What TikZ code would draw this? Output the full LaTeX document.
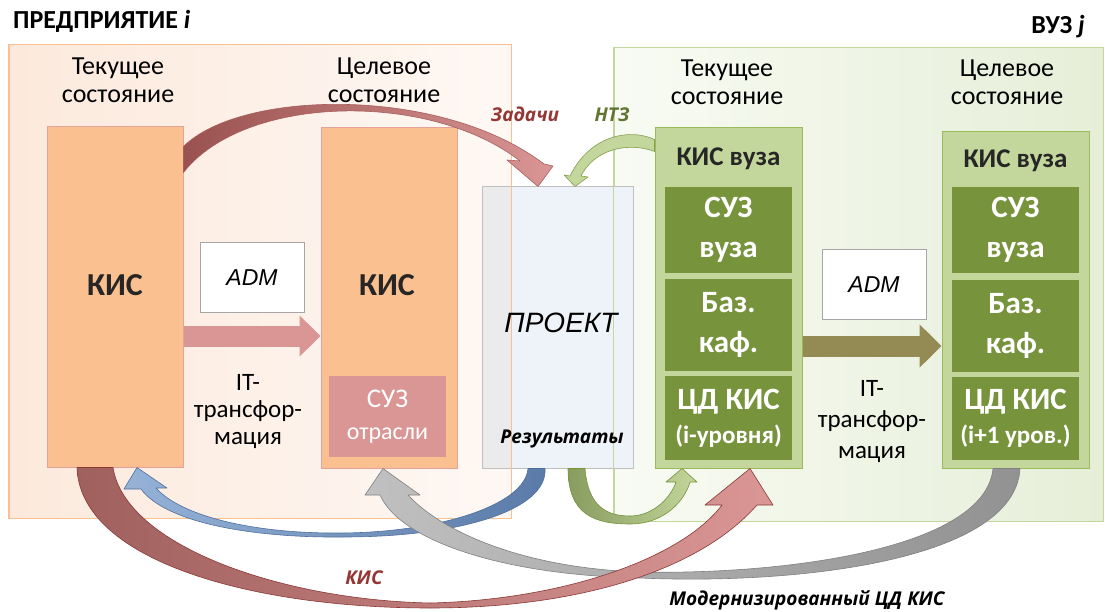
\documentclass[tikz,border=0pt]{standalone}
\usepackage{fontspec}
\setmainfont{Carlito}
\newfontfamily\arialfont{Liberation Sans}
\newfontfamily\lblfont{Open Sans}
\usetikzlibrary{arrows.meta}

\definecolor{entfillA}{HTML}{FCE9DC}
\definecolor{entfillB}{HTML}{FBDBC3}
\definecolor{entfillC}{HTML}{FEF8F4}
\definecolor{entline}{HTML}{FAC090}
\definecolor{kisfill}{HTML}{FAC090}
\definecolor{kisline}{HTML}{E3A39A}
\definecolor{suzfill}{HTML}{D99694}
\definecolor{vuzfillA}{HTML}{F8FBF3}
\definecolor{vuzfillB}{HTML}{E6EED8}
\definecolor{vuzline}{HTML}{C3D69B}
\definecolor{kvfill}{HTML}{C3D69B}
\definecolor{kvline}{HTML}{9BBB59}
\definecolor{partfill}{HTML}{77933C}
\definecolor{projfill}{HTML}{EEF3F9}
\definecolor{projgray}{HTML}{EBEBEB}
\definecolor{projline}{HTML}{BFBFBF}
\definecolor{admline}{HTML}{A6A6A6}
\definecolor{trleft}{HTML}{D99694}
\definecolor{trright}{HTML}{948A54}
\definecolor{darkred}{HTML}{943634}
\definecolor{ntzgreen}{HTML}{5F7530}
\definecolor{taskdark}{HTML}{9A5250}
\definecolor{resdark}{HTML}{5A7AA8}
\definecolor{reslight}{HTML}{95B3D7}
\definecolor{resline}{HTML}{4F6F9F}
\definecolor{simlight}{HTML}{C0C0C0}
\definecolor{simdark}{HTML}{929292}
\definecolor{simline}{HTML}{808080}
\definecolor{kisdark}{HTML}{A0605E}
\definecolor{kisedge}{HTML}{8C3836}
\definecolor{botdark}{HTML}{879C5E}

\begin{document}
\begin{tikzpicture}[x=1pt,y=-1pt,
  head/.style={font=\fontsize{26}{28}\selectfont, align=center, inner sep=0pt},
  title/.style={font=\bfseries\fontsize{26}{30}\selectfont, inner sep=0pt},
  kisbox/.style={draw=kisline, fill=kisfill, line width=1pt, minimum width=136pt, minimum height=340pt, inner sep=0pt},
  vuzbox/.style={draw=kvline, fill=kvfill, line width=1pt, minimum width=147pt, inner sep=0pt},
  part/.style={fill=partfill, text=white, font=\bfseries\fontsize{31}{40}\selectfont, align=center, minimum width=127pt, inner sep=0pt},
  admbox/.style={draw=admline, fill=white, line width=1pt, minimum width=104pt, minimum height=69pt, font=\arialfont\itshape\fontsize{23}{26}\selectfont},
  itlabel/.style={font=\fontsize{25}{27}\selectfont, align=center, inner sep=0pt},
  flow/.style={font=\lblfont\bfseries\itshape\fontsize{19}{22}\selectfont, inner sep=0pt, anchor=base},
  trarrow/.style={line width=21pt, -{Triangle[length=21pt,width=40pt]}},
  band/.style={line width=0.6pt, line join=round}
]
\useasboundingbox (0,0) rectangle (1105,612);

% areas
\node[draw=entline, line width=1pt, left color=entfillA, middle color=entfillB, right color=entfillC, minimum width=502pt, minimum height=473pt] (ent) at (260,281.5) {};
\node[draw=vuzline, line width=1pt, left color=vuzfillA, right color=vuzfillB, minimum width=489pt, minimum height=473pt] (vuz) at (858.5,284.5) {};
\node[title, anchor=base west] (entT) at (13,29) {ПРЕДПРИЯТИЕ \textit{i}};
\node[title, anchor=base east] (vuzT) at (1085,34) {ВУЗ \textit{j}};

\node[head] (curA) at (118,80) {Текущее\\состояние};
\node[head] (tgtA) at (384,80) {Целевое\\состояние};
\node[head] (curB) at (727,82) {Текущее\\состояние};
\node[head] (tgtB) at (1007,82) {Целевое\\состояние};

% enterprise
\node[kisbox] (kisA) at (115,297) {};
\node[kisbox] (kisB) at (389,298) {};
\node[font=\bfseries\fontsize{32}{36}\selectfont, text=black!85] (kisAt) at (115,285) {КИС};
\node[font=\bfseries\fontsize{32}{36}\selectfont, text=black!85] (kisBt) at (387,285) {КИС};
\node[fill=suzfill, text=white, minimum width=117pt, minimum height=81pt, align=center, inner sep=0pt, font=\fontsize{27}{32}\selectfont] (suz) at (387.5,416.5) {СУЗ\\{\fontsize{24}{32}\selectfont отрасли}};
\node[admbox] (admA) at (252,277.5) {ADM};
\draw[trarrow, trleft] ([yshift=-39pt]kisA.east) -- ([yshift=-38pt]kisB.west);
\node[itlabel] (itA) at (248,412) {IT-\\трансфор-\\мация};

% project
\node[draw=projline, line width=1pt, fill=projfill, minimum width=151pt, minimum height=281pt,
  path picture={\fill[projgray] (path picture bounding box.north west) rectangle (ent.east |- path picture bounding box.south);}] (proj) at (557.5,327.5) {};
\draw[entline, line width=1pt] (ent.south west) rectangle (ent.north east);
\draw[vuzline, line width=1pt] (vuz.south west) rectangle (vuz.north east);
\node[font=\arialfont\itshape\fontsize{28}{32}\selectfont] (projT) at (561,322.5) {ПРОЕКТ};
\node[flow] (resT) at (562,443) {Результаты};

% university
\node[vuzbox, minimum height=340pt] (vuzA) at (728.5,298) {};
\node[vuzbox, minimum height=336pt] (vuzB) at (1015.5,300) {};
\node[font=\bfseries\fontsize{27}{30}\selectfont, anchor=base, text=black!85] (vuzAt) at (728.5,166) {КИС вуза};
\node[font=\bfseries\fontsize{27}{30}\selectfont, anchor=base, text=black!85] (vuzBt) at (1015.5,168) {КИС вуза};
\node[part, minimum height=86pt] (suzA) at (728.5,230) {СУЗ\\вуза};
\node[part, minimum height=92pt] (bazA) at (728.5,325) {Баз.\\каф.};
\node[part, minimum height=84pt, font=\bfseries\fontsize{31}{34}\selectfont] (cdA) at (728.5,418) {ЦД КИС\\{\fontsize{25}{34}\selectfont(i-уровня)}};
\node[part, minimum height=86pt] (suzB) at (1015.5,230) {СУЗ\\вуза};
\node[part, minimum height=92pt] (bazB) at (1015.5,326) {Баз.\\каф.};
\node[part, minimum height=83pt, font=\bfseries\fontsize{31}{34}\selectfont] (cdB) at (1015.5,418.5) {ЦД КИС\\{\fontsize{25}{34}\selectfont(i+1 уров.)}};
\node[admbox] (admB) at (874,284.5) {ADM};
\draw[trarrow, trright, -{Triangle[length=22pt,width=42pt]}] ([yshift=-48pt]vuzA.east) -- ([yshift=-46pt]vuzB.west);
\node[itlabel, font=\fontsize{25}{31}\selectfont] (itB) at (872,422) {IT-\\трансфор-\\мация};

% curved flows
\shadedraw[band, left color=taskdark, right color=suzfill, draw=darkred!80] ([yshift=-20pt]kisA.north east) .. controls (240,90) and (440,85) .. (544,164) -- (553,166) -- ([xshift=-19.5pt]proj.north) -- (507,160) -- (520,161) .. controls (430,91) and (245,94) .. ([yshift=-46pt]kisA.north east) -- cycle;
\filldraw[band, fill=kvfill, draw=kvline!85!black] ([yshift=-12pt]vuzA.north west) .. controls (630,128) and (590,135) .. (570,176) -- (564,175) -- ([xshift=17.5pt]proj.north) -- (588,177) -- (581,176) .. controls (595,148) and (630,142) .. ([yshift=-24pt]vuzA.north west) -- cycle;
\shadedraw[band, left color=reslight, right color=resdark, draw=resline] ([xshift=-29.5pt]proj.south) .. controls (525,505) and (440,532) .. (343,533) .. controls (250,534) and (180,515) .. (156,488) -- (167,488) -- ([xshift=22pt]kisA.south) -- (124,489) -- (141,489) .. controls (165,522) and (250,538) .. (343,537) .. controls (460,537) and (548,510) .. ([xshift=-12.5pt]proj.south) -- cycle;
\shadedraw[band, left color=simlight, right color=simdark, draw=simline] ([xshift=4.5pt]vuzB.south) .. controls (1015,560) and (800,585) .. (640,578) .. controls (500,575) and (400,540) .. (380,495) -- (365,495) -- ([xshift=-6pt]kisB.south) -- (420,495) -- (408,495) .. controls (440,530) and (520,568) .. (640,572) .. controls (780,575) and (985,550) .. ([xshift=-22.5pt]vuzB.south) -- cycle;
\shadedraw[band, left color=kisdark, right color=suzfill, draw=kisedge] ([xshift=-38pt]kisA.south) .. controls (80,560) and (250,608) .. (430,608) .. controls (580,608) and (700,570) .. (757,505) -- (773,505) -- ([xshift=21.5pt]vuzA.south) -- (705,505) -- (722,505) .. controls (680,560) and (560,600) .. (430,603) .. controls (280,600) and (125,545) .. ([xshift=-2pt]kisA.south) -- cycle;
\shadedraw[band, left color=botdark, right color=kvfill, draw=partfill] ([xshift=10.5pt]proj.south) .. controls (568,515) and (595,524) .. (630,524) .. controls (665,524) and (685,500) .. (690,482) -- (697,482) -- ([xshift=-46.5pt]vuzA.south) -- (666,482) -- (676,482) .. controls (672,495) and (655,516) .. (630,516) .. controls (605,516) and (588,505) .. ([xshift=27.5pt]proj.south) -- cycle;

% flow labels
\node[flow, text=darkred] (taskT) at (525,122) {Задачи};
\node[flow, text=ntzgreen] (ntzT) at (612,122) {НТЗ};
\node[flow, text=darkred] (kisL) at (364,584) {КИС};
\node[flow] (modL) at (807,605) {Модернизированный ЦД КИС};
\end{tikzpicture}
\end{document}
